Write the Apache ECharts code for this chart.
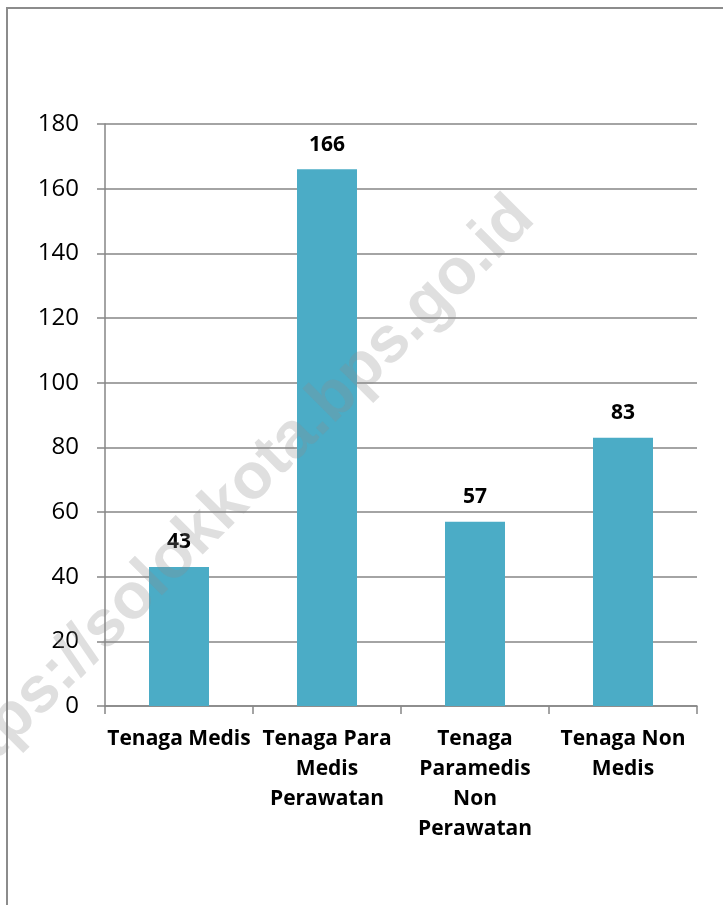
<!DOCTYPE html>
<html>
<head>
<meta charset="utf-8">
<script src="https://cdn.jsdelivr.net/npm/echarts@6/dist/echarts.min.js"></script>
<style>html,body{margin:0;padding:0;background:#fff;}#c{width:723px;height:905px;}</style>
</head>
<body>
<div id="c"></div>
<script>
var categories = ["Tenaga Medis", "Tenaga Para\nMedis\nPerawatan", "Tenaga\nParamedis\nNon\nPerawatan", "Tenaga Non\nMedis"];
var values = [43, 166, 57, 83];
var yMin = 0, yMax = 180, yStep = 20;
var watermark = "https://solokkota.bps.go.id";

var chart = echarts.init(document.getElementById('c'), null, {renderer: 'canvas'});
chart.setOption({
  animation: false,
  backgroundColor: '#ffffff',
  grid: {left: 105, right: 26, top: 124, bottom: 199, containLabel: false},
  xAxis: {
    type: 'category',
    data: categories,
    axisLine: {lineStyle: {color: '#868686', width: 1.5}},
    axisTick: {show: true, length: 8, alignWithLabel: false, lineStyle: {color: '#868686', width: 1.5}},
    axisLabel: {
      interval: 0, margin: 18,
      fontFamily: 'Open Sans', fontWeight: 'bold', fontSize: 21,
      color: '#000', lineHeight: 30
    }
  },
  yAxis: {
    type: 'value', min: yMin, max: yMax, interval: yStep,
    axisLine: {show: true, lineStyle: {color: '#868686', width: 1.5}},
    axisTick: {show: true, length: 8, lineStyle: {color: '#868686', width: 1.5}},
    axisLabel: {fontFamily: 'Open Sans', fontSize: 24, color: '#000', margin: 26},
    splitLine: {show: true, lineStyle: {color: '#868686', width: 1.5}}
  },
  series: [{
    type: 'bar',
    data: values,
    barWidth: 60,
    itemStyle: {color: '#4BACC6'},
    label: {
      show: true, position: 'top', distance: 14,
      fontFamily: 'Open Sans', fontWeight: 'bold', fontSize: 21, color: '#000'
    }
  }],
  graphic: [
    {type: 'rect', silent: true, z: 100,
     shape: {x: 7, y: 8, width: 900, height: 1000},
     style: {fill: 'none', stroke: '#8c8c8c', lineWidth: 2}},
    {type: 'text', silent: true, z: 100,
     x: 524, y: 208, rotation: Math.PI / 4,
     style: {text: watermark, fontFamily: 'Liberation Sans', fontWeight: 'bold', fontSize: 65,
             fill: 'rgba(140,140,140,0.28)', align: 'right', verticalAlign: 'middle'}}
  ]
});
</script>
</body>
</html>
